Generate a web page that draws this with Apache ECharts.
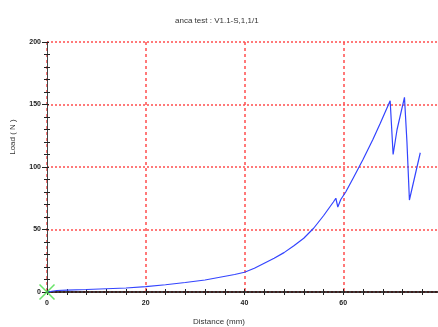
<!DOCTYPE html>
<html>
<head>
<meta charset="utf-8">
<script src="https://cdn.jsdelivr.net/npm/echarts@6/dist/echarts.min.js"></script>
<style>html,body{margin:0;padding:0;background:#fff;overflow:hidden}#c{width:444px;height:327px}</style>
</head>
<body>
<div id="c"></div>
<script>
const titleText = 'anca test : V1.1-S,1,1/1';
const xName = 'Distance (mm)';
const yName = 'Load ( N )';
const distance = [0,1,2,4,8,12,16,20,24,28,32,35,38,40,42,44,46,48,50,52,54,56,58,58.5,58.9,59.5,60.5,62,64,66,67.5,69.5,70.1,70.9,72.4,72.9,73.4,75.6];
const load =     [0,0.6,1.2,1.5,2,2.6,3.2,4.3,5.8,7.6,9.6,11.8,14,15.8,19,23,27,31.5,37,43,51,61,72,75,68,74,80,91,106,122,135,153,110,130,155.7,120,73.6,111.4];
const xTicks = [0,20,40,60,80];
const yTicks = [0,50,100,150,200];

const chart = echarts.init(document.getElementById('c'));
const lbl = {fontSize:7, fontWeight:'bold', color:'#222', fontFamily:'Liberation Sans, Arial, sans-serif'};
const gridBox = {left:47, right:2, top:42, bottom:35, containLabel:false};
const xBase = {type:'value', min:xTicks[0], max:xTicks[xTicks.length-1], interval:20, position:'bottom'};
const yBase = {type:'value', min:yTicks[0], max:yTicks[yTicks.length-1], interval:50, position:'left'};
const data = distance.map((d,i)=>[d, load[i]]);

chart.setOption({
  animation:false,
  grid: [Object.assign({}, gridBox), Object.assign({}, gridBox)],
  graphic: [
    {type:'text', left:175, top:17, style:{text:titleText, fontSize:8, fill:'#333', fontFamily:'Liberation Sans, Arial, sans-serif'}},
    {type:'text', left:193, top:318, style:{text:xName, fontSize:8, fill:'#333', fontFamily:'Liberation Sans, Arial, sans-serif'}},
    {type:'text', x:13, y:137, rotation:Math.PI/2, style:{text:yName, fontSize:8, fill:'#333', align:'center', verticalAlign:'middle', fontFamily:'Liberation Sans, Arial, sans-serif'}}
  ],
  xAxis: [
    Object.assign({}, xBase, {
      gridIndex:0,
      axisLine:{show:true, lineStyle:{color:'#000', width:1.5}},
      axisTick:{show:true, length:3, lineStyle:{color:'#222'}},
      minorTick:{show:true, splitNumber:5, length:3, lineStyle:{color:'#222'}},
      axisLabel:Object.assign({margin:8, showMaxLabel:false}, lbl),
      splitLine:{show:true, showMaxLine:false, lineStyle:{color:'#ff4d4d', width:1.5, type:[3,3]}}
    }),
    Object.assign({}, xBase, {
      gridIndex:1,
      axisLine:{show:false},
      axisTick:{show:true, inside:true, length:3, lineStyle:{color:'#222'}},
      minorTick:{show:true, splitNumber:5, length:3, lineStyle:{color:'#222'}},
      axisLabel:{show:false}, splitLine:{show:false}
    })
  ],
  yAxis: [
    Object.assign({}, yBase, {
      gridIndex:0,
      axisLine:{show:true, lineStyle:{color:'#444', width:1}},
      axisTick:{show:true, length:5, lineStyle:{color:'#222'}},
      minorTick:{show:true, splitNumber:5, length:3, lineStyle:{color:'#222'}},
      axisLabel:Object.assign({margin:6}, lbl),
      splitLine:{show:true, lineStyle:{color:'#ff4d4d', width:1.5, type:[2,2]}}
    }),
    Object.assign({}, yBase, {
      gridIndex:1,
      axisLine:{show:false},
      axisTick:{show:true, inside:true, length:2, lineStyle:{color:'#222'}},
      minorTick:{show:true, splitNumber:5, length:3, lineStyle:{color:'#222'}},
      axisLabel:{show:false}, splitLine:{show:false}
    })
  ],
  series: [
    {type:'line', xAxisIndex:0, yAxisIndex:0, data:data, symbol:'none', lineStyle:{color:'#3344ff', width:1.2}, z:3},
    {type:'scatter', xAxisIndex:0, yAxisIndex:0, data:[[distance[0], load[0]]], symbol:'path://M0,0L10,10M10,0L0,10', symbolSize:15,
     itemStyle:{color:'none', borderColor:'#44dd44', borderWidth:1.5}, z:4}
  ]
});
</script>
</body>
</html>
